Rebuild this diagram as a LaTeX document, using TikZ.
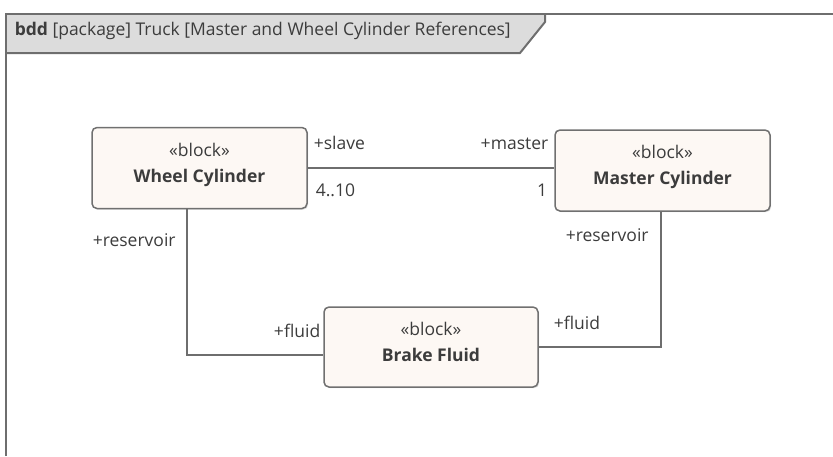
\documentclass[tikz,border=0pt]{standalone}
\usepackage{fontspec}
\setmainfont{Open Sans}
\usepackage{xcolor}
\usepackage{tikz}
\usetikzlibrary{shadows}

\definecolor{framegray}{HTML}{6E6E6E}
\definecolor{tabgray}{HTML}{DCDCDC}
\definecolor{blockfill}{HTML}{FDF8F4}
\definecolor{blockline}{HTML}{707070}
\definecolor{txtgray}{HTML}{3C3C3C}

\begin{document}
\begin{tikzpicture}[x=1pt, y=-1pt, line width=1.5pt,
    block/.style={draw=blockline, fill=blockfill, rounded corners=5pt,
        minimum width=215pt, minimum height=81pt, align=center, inner sep=0pt,
        text depth=11pt, text=txtgray, font=\fontsize{17.5}{26}\selectfont,
        drop shadow={shadow xshift=1.2pt, shadow yshift=-1.2pt, opacity=0.25}},
    role/.style={inner sep=0pt, text=txtgray, font=\fontsize{17.5}{20}\selectfont},
    link/.style={draw=framegray, line width=1.6pt}]
            % page size
            \useasboundingbox (0,0) rectangle (833,456);

            % frame and tab
            \fill[tabgray] (6,14) -- (545,14) -- (545,22) -- (520,53) -- (6,53) -- cycle;
            \draw[framegray, line width=2pt] (545,14) -- (545,22) -- (520,53) -- (6,53);
            \draw[framegray, line width=2pt] (5.5,456) -- (5.5,13.5) -- (833,13.5);
            \node[role, anchor=west] (title) at (14,31)
                {\textbf{bdd} [package] Truck [Master and Wheel Cylinder References]};

            % blocks
            \node[block] (wheel) at (199.5,168) {«block»\\\textbf{Wheel Cylinder}};
            \node[block] (master) at (662.5,170.5) {«block»\\\textbf{Master Cylinder}};
            \node[block, minimum width=214pt, minimum height=80pt] (brake) at (431,347)
                {«block»\\\textbf{Brake Fluid}};

            % associations
            \draw[link] (wheel.east) -- (wheel.east -| master.west);
            \draw[link] ([xshift=-12.5pt]wheel.south) |- ([yshift=-8pt]brake.west);
            \draw[link] ([xshift=-1.5pt]master.south) |- (brake.east);

            % role names and multiplicities
            \node[role, anchor=west] (slave) at (313,143) {+slave};
            \node[role, anchor=west] (slavemult) at (315,190) {4..10};
            \node[role, anchor=east] (mastername) at (549,144) {+master};
            \node[role, anchor=east] (mastermult) at (548,190) {1};
            \node[role, anchor=west] (wheelres) at (92,240) {+reservoir};
            \node[role, anchor=west] (masterres) at (565,235) {+reservoir};
            \node[role, anchor=east] (fluidleft) at (321,331) {+fluid};
            \node[role, anchor=west] (fluidright) at (553,323) {+fluid};
        \end{tikzpicture}
\end{document}
